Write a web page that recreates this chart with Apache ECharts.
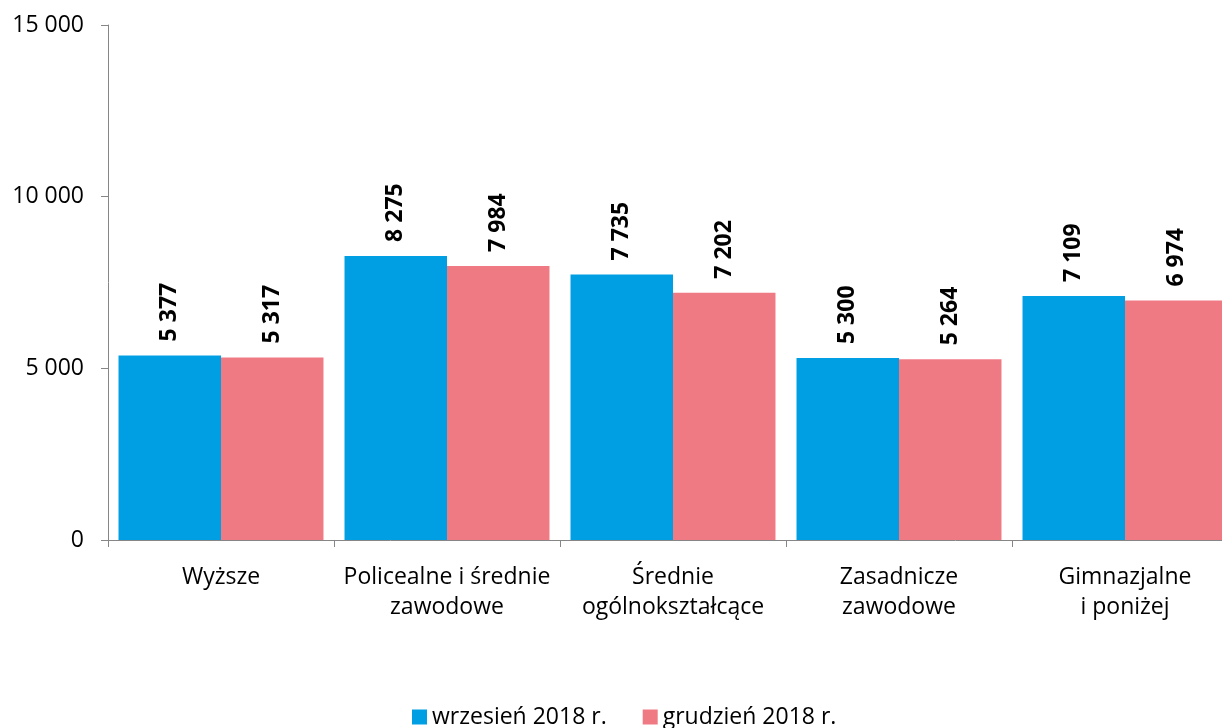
<!DOCTYPE html>
<html>
<head>
<meta charset="utf-8">
<script src="https://cdn.jsdelivr.net/npm/echarts@6/dist/echarts.min.js"></script>
<style>
  html, body { margin: 0; padding: 0; background: #fff; overflow: hidden; }
  #chart { width: 1238px; height: 728px; }
</style>
</head>
<body>
<div id="chart"></div>
<script>
const categories = ['Wyższe', 'Policealne i średnie\nzawodowe', 'Średnie\nogólnokształcące', 'Zasadnicze\nzawodowe', 'Gimnazjalne\ni poniżej']
const wrzesien = [5377, 8275, 7735, 5300, 7109]
const grudzien = [5317, 7984, 7202, 5264, 6974]
const seriesNames = ['wrzesień 2018 r.', 'grudzień 2018 r.']

const FONT = '"Open Sans", "Noto Sans", sans-serif'
const fmt = (v) => String(v).replace(/\B(?=(\d{3})+(?!\d))/g, ' ')

// chart is a bit wider than the window: the reference is cropped on the right
const chart = echarts.init(document.getElementById('chart'), null, { renderer: 'canvas' })

const labelCfg = {
  show: true,
  position: 'top',
  rotate: 90,
  align: 'left',
  verticalAlign: 'middle',
  distance: 14,
  color: '#000',
  fontWeight: 'bold',
  fontSize: 23,
  fontFamily: FONT,
  formatter: (p) => fmt(p.value),
}

chart.setOption({
  animation: false,
  grid: { left: 108, right: 0, top: 25, bottom: 188, containLabel: false },
  legend: {
    top: 703,
    left: 412,
    padding: 0,
    itemWidth: 15,
    itemHeight: 15,
    itemGap: 36,
    icon: 'rect',
    textStyle: { fontSize: 23, lineHeight: 28, fontFamily: FONT, color: '#000' },
    data: seriesNames,
  },
  xAxis: {
    type: 'category',
    data: categories,
    axisLine: { lineStyle: { color: '#868686', width: 1 } },
    axisTick: { show: true, length: 7, lineStyle: { color: '#868686' } },
    axisLabel: { color: '#000', fontSize: 23, fontFamily: FONT, margin: 22, lineHeight: 30, interval: 0 },
  },
  yAxis: {
    type: 'value',
    min: 0,
    max: 15000,
    interval: 5000,
    axisLine: { show: true, lineStyle: { color: '#868686', width: 1 } },
    axisTick: { show: true, length: 7, lineStyle: { color: '#868686' } },
    splitLine: { show: false },
    axisLabel: { color: '#000', fontSize: 23, fontFamily: FONT, margin: 24, formatter: (v) => fmt(v) },
  },
  series: [
    {
      name: seriesNames[0],
      type: 'bar',
      data: wrzesien,
      barGap: '0%',
      barCategoryGap: '9.3%',
      itemStyle: { color: '#009FE3' },
      label: labelCfg,
    },
    {
      name: seriesNames[1],
      type: 'bar',
      data: grudzien,
      itemStyle: { color: '#F07A84' },
      label: labelCfg,
    },
  ],
})
</script>
</body>
</html>
